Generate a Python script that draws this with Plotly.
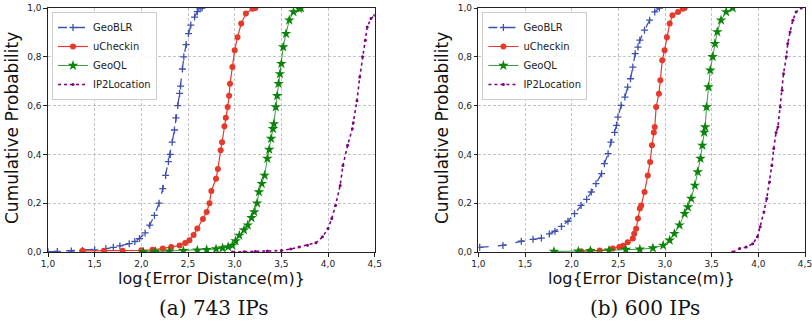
import plotly.graph_objects as go

# ---------------- data ----------------
# (a) 743 IPs
a_geoblr_x = [1.0, 1.1, 1.25, 1.37, 1.5, 1.62, 1.7, 1.77, 1.87, 1.93, 1.98, 2.04, 2.09, 2.14, 2.19, 2.23,
              2.26, 2.29, 2.31, 2.33, 2.355, 2.37, 2.39, 2.41, 2.42, 2.44, 2.455, 2.48, 2.505, 2.53, 2.57,
              2.6, 2.63, 2.65]
a_geoblr_y = [0.0, 0.002, 0.004, 0.006, 0.009, 0.014, 0.019, 0.025, 0.034, 0.043, 0.055, 0.078, 0.11, 0.15,
              0.2, 0.26, 0.314, 0.37, 0.4, 0.45, 0.5, 0.55, 0.6, 0.65, 0.68, 0.75, 0.8, 0.85, 0.895, 0.93,
              0.963, 0.985, 0.998, 1.0]

a_uch_x = [1.37, 1.6, 1.8, 2.0, 2.12, 2.23, 2.32, 2.41, 2.47, 2.515, 2.56, 2.6, 2.66, 2.7, 2.73, 2.75,
           2.8, 2.82, 2.85, 2.865, 2.89, 2.905, 2.925, 2.94, 2.95, 2.975, 3.0, 3.03, 3.07, 3.12, 3.19, 3.22]
a_uch_y = [0.005, 0.005, 0.005, 0.007, 0.009, 0.014, 0.02, 0.027, 0.037, 0.048, 0.07, 0.096, 0.135, 0.164,
           0.2, 0.25, 0.3, 0.34, 0.417, 0.45, 0.515, 0.55, 0.594, 0.64, 0.69, 0.758, 0.827, 0.88,
           0.936, 0.977, 0.997, 1.0]

a_geoql_x = [2.02, 2.15, 2.3, 2.45, 2.6, 2.7, 2.8, 2.87, 2.93, 2.975, 3.01, 3.05, 3.1, 3.14, 3.18, 3.21, 3.24,
             3.26, 3.29, 3.32, 3.35, 3.37, 3.39, 3.41, 3.42, 3.44, 3.455, 3.47, 3.485, 3.5, 3.52, 3.55, 3.585,
             3.63, 3.69, 3.71]
a_geoql_y = [0.0, 0.002, 0.003, 0.005, 0.007, 0.009, 0.012, 0.016, 0.021, 0.027, 0.045, 0.068, 0.09, 0.11,
             0.14, 0.164, 0.2, 0.246, 0.28, 0.314, 0.383, 0.42, 0.465, 0.505, 0.525, 0.594, 0.64, 0.69, 0.73,
             0.772, 0.84, 0.895, 0.95, 0.984, 0.997, 1.0]

a_ip2_x = [2.975, 3.1, 3.22, 3.35, 3.5, 3.6, 3.69, 3.78, 3.87, 3.94, 4.0, 4.04, 4.08, 4.13, 4.16, 4.21, 4.26,
           4.27, 4.31, 4.34, 4.37, 4.40, 4.42, 4.46, 4.5]
a_ip2_y = [0.0, 0.001, 0.002, 0.004, 0.006, 0.012, 0.02, 0.028, 0.038, 0.062, 0.096, 0.137, 0.191, 0.273,
           0.355, 0.437, 0.505, 0.53, 0.62, 0.717, 0.8, 0.868, 0.922, 0.957, 0.97]

# (b) 600 IPs
b_geoblr_x = [1.014, 1.263, 1.46, 1.585, 1.675, 1.76, 1.82, 1.89, 1.96, 2.03, 2.10, 2.16, 2.21, 2.26, 2.32,
              2.35, 2.39, 2.42, 2.46, 2.48, 2.495, 2.53, 2.57, 2.60, 2.63, 2.655, 2.68, 2.71, 2.73, 2.78,
              2.835, 2.89, 2.94]
b_geoblr_y = [0.019, 0.027, 0.044, 0.052, 0.057, 0.074, 0.085, 0.105, 0.126, 0.157, 0.191, 0.216, 0.246,
              0.28, 0.321, 0.362, 0.403, 0.45, 0.49, 0.519, 0.553, 0.601, 0.635, 0.676, 0.71, 0.758, 0.813,
              0.84, 0.868, 0.909, 0.95, 0.984, 1.0]

b_uch_x = [2.10, 2.2, 2.3, 2.44, 2.51, 2.55, 2.60, 2.655, 2.67, 2.69, 2.71, 2.73, 2.745, 2.78, 2.815, 2.84,
           2.86, 2.88, 2.89, 2.905, 2.935, 2.95, 2.97, 2.995, 3.02, 3.05, 3.08, 3.14, 3.19, 3.21]
b_uch_y = [0.003, 0.004, 0.006, 0.014, 0.02, 0.026, 0.04, 0.055, 0.075, 0.095, 0.137, 0.178, 0.191, 0.246,
           0.314, 0.369, 0.437, 0.49, 0.512, 0.594, 0.649, 0.704, 0.786, 0.827, 0.88, 0.936, 0.97, 0.984,
           0.997, 1.0]

b_geoql_x = [1.81, 2.07, 2.2, 2.4, 2.58, 2.73, 2.87, 2.98, 3.05, 3.10, 3.155, 3.21, 3.245, 3.28, 3.32, 3.35,
             3.38, 3.40, 3.42, 3.43, 3.445, 3.465, 3.485, 3.51, 3.535, 3.56, 3.60, 3.655, 3.725]
b_geoql_y = [0.002, 0.003, 0.005, 0.007, 0.01, 0.011, 0.016, 0.027, 0.048, 0.075, 0.11, 0.157, 0.184, 0.219,
             0.273, 0.328, 0.383, 0.437, 0.49, 0.512, 0.594, 0.676, 0.745, 0.8, 0.854, 0.902, 0.95, 0.984, 1.0]

b_ip2_x = [3.725, 3.80, 3.87, 3.94, 3.99, 4.02, 4.06, 4.09, 4.12, 4.145, 4.165, 4.19, 4.21, 4.235, 4.255,
           4.27, 4.30, 4.315, 4.34, 4.37, 4.405, 4.46]
b_ip2_y = [0.0, 0.014, 0.02, 0.034, 0.062, 0.103, 0.164, 0.219, 0.287, 0.355, 0.424, 0.49, 0.512, 0.594,
           0.663, 0.731, 0.8, 0.854, 0.902, 0.95, 0.984, 1.0]

series_names = ["GeoBLR", "uCheckin", "GeoQL", "IP2Location"]
x_ticks = [1.0, 1.5, 2.0, 2.5, 3.0, 3.5, 4.0, 4.5]
y_ticks = [0.0, 0.2, 0.4, 0.6, 0.8, 1.0]
captions = ["(a) 743 IPs", "(b) 600 IPs"]
x_title = "log{Error Distance(m)}"
y_title = "Cumulative Probability"

# ---------------- styles ----------------
BLUE = "#3f50b0"
RED = "#e5392a"
GREEN = "#0a850a"
PURPLE = "#800080"

styles = [
    dict(line=dict(color=BLUE, width=1.3, dash="dash"),
         marker=dict(symbol="cross-thin", size=5, color=BLUE, line=dict(color=BLUE, width=1.3))),
    dict(line=dict(color=RED, width=1.2),
         marker=dict(symbol="circle", size=6, color=RED)),
    dict(line=dict(color=GREEN, width=0.8),
         marker=dict(symbol="star", size=8, color=GREEN)),
    dict(line=dict(color=PURPLE, width=1.6, dash="dot"),
         marker=dict(symbol="circle", size=3, color=PURPLE)),
]

panels = [
    [(a_geoblr_x, a_geoblr_y), (a_uch_x, a_uch_y), (a_geoql_x, a_geoql_y), (a_ip2_x, a_ip2_y)],
    [(b_geoblr_x, b_geoblr_y), (b_uch_x, b_uch_y), (b_geoql_x, b_geoql_y), (b_ip2_x, b_ip2_y)],
]

fig = go.Figure()
for p, data in enumerate(panels):
    xa = "x" if p == 0 else "x2"
    ya = "y" if p == 0 else "y2"
    lg = "legend" if p == 0 else "legend2"
    for i, (xs, ys) in enumerate(data):
        fig.add_trace(go.Scatter(x=xs, y=ys, mode="lines+markers", name=series_names[i],
                                 xaxis=xa, yaxis=ya, legend=lg, cliponaxis=True, **styles[i]))

W, H = 812, 325
# desired pixel positions of the plot areas
PX_L1, PX_R1, PX_L2, PX_R2 = 48.3, 375.0, 478.7, 805.3
PY_T, PY_B = 7.7, 251.7
L = PX_L1
R = W - PX_R2
T = PY_T
B = H - PY_B
pw = W - L - R
ph = H - T - B
d_left = [0.0, (PX_R1 - PX_L1) / pw]
d_right = [(PX_L2 - PX_L1) / pw, 1.0]

axis_common = dict(showline=True, linecolor="#222", linewidth=1.2, mirror=True,
                   ticks="outside", ticklen=3.5, tickwidth=1, tickcolor="#222",
                   showgrid=True, gridcolor="#c4c4c4", gridwidth=0.8, griddash="3px,2px",
                   zeroline=False, tickformat=".1f", ticklabeloverflow="allow",
                   tickfont=dict(family="DejaVu Sans", size=9, color="#222"))

legend_common = dict(yanchor="top", xanchor="left", y=1 - 4 / ph,
                     bgcolor="rgba(255,255,255,0.9)", bordercolor="#cccccc", borderwidth=1,
                     font=dict(family="DejaVu Sans", size=10, color="#222"),
                     itemwidth=30, tracegroupgap=0)

fig.update_layout(
    width=W, height=H, margin=dict(l=L, r=R, t=T, b=B, autoexpand=False),
    paper_bgcolor="white", plot_bgcolor="white", separators=",.",
    xaxis=dict(domain=d_left, range=[1.0, 4.5], tickvals=x_ticks, anchor="y", **axis_common),
    yaxis=dict(domain=[0, 1], range=[0, 1], tickvals=y_ticks, anchor="x", **axis_common),
    xaxis2=dict(domain=d_right, range=[1.0, 4.5], tickvals=x_ticks, anchor="y2", **axis_common),
    yaxis2=dict(domain=[0, 1], range=[0, 1], tickvals=y_ticks, anchor="x2", **axis_common),
    legend=dict(x=d_left[0] + 4 / pw, **legend_common),
    legend2=dict(x=d_right[0] + 4 / pw, **legend_common),
    showlegend=True,
)


def px_to_paper(px, py):
    return (px - L) / pw, (H - B - py) / ph


ann = []
centers = [(PX_L1 + PX_R1) / 2, (PX_L2 + PX_R2) / 2]
ytitle_x = [13, 443]
for p in range(2):
    x, y = px_to_paper(centers[p], 278)
    ann.append(dict(text=x_title, x=x, y=y, xref="paper", yref="paper", xanchor="center",
                    yanchor="middle", showarrow=False,
                    font=dict(family="DejaVu Sans", size=16, color="#111")))
    x, y = px_to_paper(centers[p] + 3, 308)
    ann.append(dict(text=captions[p], x=x, y=y, xref="paper", yref="paper", xanchor="center",
                    yanchor="middle", showarrow=False,
                    font=dict(family="DejaVu Serif", size=20, color="#111")))
    x, y = px_to_paper(ytitle_x[p], 128)
    ann.append(dict(text=y_title, x=x, y=y, xref="paper", yref="paper", xanchor="center",
                    yanchor="middle", showarrow=False, textangle=-90,
                    font=dict(family="DejaVu Sans", size=17, color="#111")))
fig.update_layout(annotations=ann)

fig.write_html(
    "out.html",
    config={"displayModeBar": False},
    post_script="document.body.style.margin='0';document.documentElement.style.overflow='hidden';",
)
